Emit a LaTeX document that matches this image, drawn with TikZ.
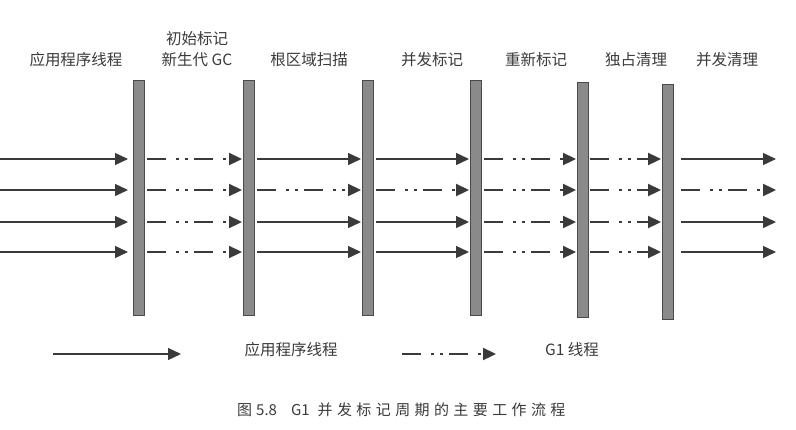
\documentclass[tikz,border=0pt]{standalone}
\usepackage{fontspec}
\setmainfont{Noto Sans CJK SC}
\usetikzlibrary{arrows.meta}
\definecolor{ink}{HTML}{3A3A3A}
\definecolor{barfill}{HTML}{8A8A8A}
\definecolor{barline}{HTML}{4A4A4A}
\newcommand{\capsp}{\hspace{4.4pt}}
\tikzset{
  bar/.style={draw=barline, line width=1pt, fill=barfill, inner sep=0pt, minimum width=11pt, minimum height=235pt},
  lbl/.style={text=ink, font=\fontsize{15.5}{18}\selectfont, inner sep=0pt, anchor=center},
  app/.style={draw=ink, line width=1.3pt, -{Triangle[length=13pt,width=12pt]}},
  gc/.style={draw=ink, line width=2.3pt, dash pattern=on 19pt off 10pt on 3pt off 6pt on 3pt off 6pt, -{Triangle[length=13pt,width=12pt]}},
}
\begin{document}
\begin{tikzpicture}[x=1pt,y=-1pt]
\useasboundingbox (0,0) rectangle (796,429);
% bars
\node[bar] (b1) at (138.5,197.5) {};
\node[bar] (b2) at (249,197.5) {};
\node[bar] (b3) at (368,197.5) {};
\node[bar] (b4) at (476,197.5) {};
\node[bar] (b5) at (582.5,199.5) {};
\node[bar] (b6) at (667.5,201.5) {};
% labels
\node[lbl] (t0) at (76,60) {应用程序线程};
\node[lbl] (t1a) at (197,39) {初始标记};
\node[lbl] (t1b) at (197,60) {新生代 GC};
\node[lbl] (t2) at (309,60) {根区域扫描};
\node[lbl] (t3) at (432,60) {并发标记};
\node[lbl] (t4) at (536,60) {重新标记};
\node[lbl] (t5) at (636,60) {独占清理};
\node[lbl] (t6) at (727,60) {并发清理};
% row end points
\foreach \r/\y in {1/159,2/190,3/222,4/252}{
  \coordinate (s0r\r) at (0,\y);
  \coordinate (e0r\r) at (128,\y);
  \coordinate (s1r\r) at (147,\y);
  \coordinate (e1r\r) at (242,\y);
  \coordinate (s2r\r) at (257,\y);
  \coordinate (e2r\r) at (361,\y);
  \coordinate (s3r\r) at (376,\y);
  \coordinate (e3r\r) at (469,\y);
  \coordinate (s4r\r) at (484,\y);
  \coordinate (e4r\r) at (576,\y);
  \coordinate (s5r\r) at (590,\y);
  \coordinate (e5r\r) at (661,\y);
  \coordinate (s6r\r) at (681,\y);
  \coordinate (e6r\r) at (776,\y);
}
% segment 0: application threads
\foreach \r in {1,2,3,4}{ \draw[app] (s0r\r) -- (e0r\r); }
% segment 1: G1 threads
\foreach \r in {1,2,3,4}{ \draw[gc] (s1r\r) -- (e1r\r); }
% segments 2, 3, 6: mixed
\foreach \s in {2,3,6}{
  \draw[app] (s\s r1) -- (e\s r1);
  \draw[gc]  (s\s r2) -- (e\s r2);
  \draw[app] (s\s r3) -- (e\s r3);
  \draw[app] (s\s r4) -- (e\s r4);
}
% segments 4, 5: G1 threads
\foreach \s in {4,5}{
  \foreach \r in {1,2,3,4}{ \draw[gc] (s\s r\r) -- (e\s r\r); }
}
% legend
\coordinate (la) at (53,354);
\coordinate (lb) at (181,354);
\coordinate (lc) at (402,354);
\coordinate (ld) at (496,354);
\draw[app] (la) -- (lb);
\draw[gc] (lc) -- (ld);
\node[lbl] (l1) at (291,350) {应用程序线程};
\node[lbl] (l2) at (572,350) {G1 线程};
% caption
\node[lbl, anchor=west, font=\fontsize{15}{17}\selectfont] (cap) at (237,410) {图\hspace{4pt}5.8\hspace{14pt}G1\hspace{8pt}并\capsp 发\capsp 标\capsp 记\capsp 周\capsp 期\capsp 的\capsp 主\capsp 要\capsp 工\capsp 作\capsp 流\capsp 程};
\end{tikzpicture}
\end{document}
